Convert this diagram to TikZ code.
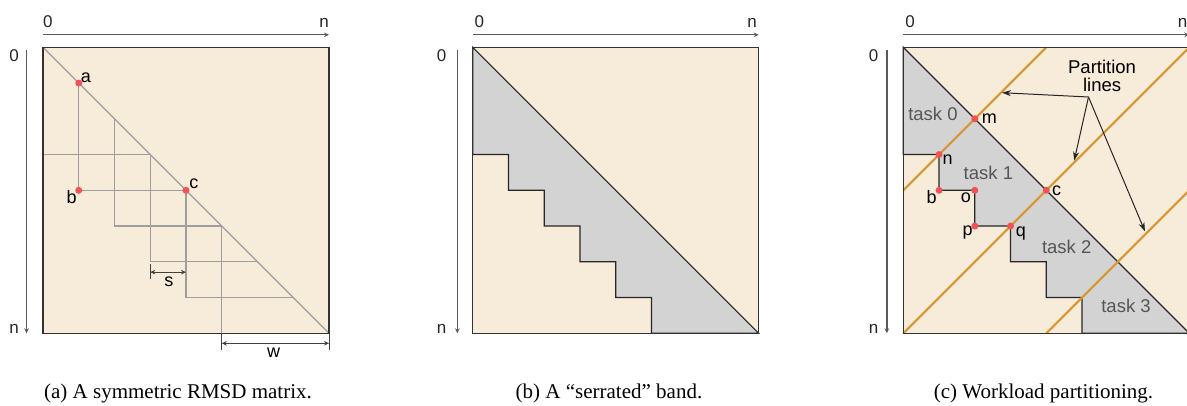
\documentclass[tikz,border=0pt]{standalone}
\usepackage{fontspec}
\setmainfont{Liberation Serif}
\setsansfont{Liberation Sans}
\usetikzlibrary{arrows.meta}
\definecolor{bg}{RGB}{247,235,218}
\definecolor{band}{RGB}{211,211,211}
\definecolor{orng}{RGB}{214,150,50}
\definecolor{dotred}{RGB}{240,82,88}
\definecolor{axisgray}{RGB}{90,90,90}
\definecolor{gridgray}{RGB}{158,158,158}
\definecolor{tasktext}{RGB}{85,85,85}
\tikzset{
  lbl/.style={font=\sffamily\fontsize{18}{20}\selectfont, inner sep=0pt, text=black},
  axlbl/.style={font=\sffamily\fontsize{17}{20}\selectfont, inner sep=0pt, text=black!85},
  tasklbl/.style={font=\sffamily\fontsize{18.5}{20}\selectfont, inner sep=0pt, text=tasktext},
  caption/.style={font=\fontsize{21}{24}\selectfont, inner sep=0pt, anchor=base},
  dotr/.style={circle, fill=dotred, inner sep=0pt, minimum size=7pt},
  axis/.style={draw=axisgray, line width=1.3pt, -{Stealth[length=5pt,width=4.5pt]}},
  frame/.style={draw=black!80, line width=1.4pt},
  gridline/.style={draw=gridgray, line width=1.3pt},
  edge/.style={draw=black!85, line width=1.2pt},
  part/.style={draw=orng, line width=2pt},
  callout/.style={draw=black!85, line width=1pt, -{Stealth[length=9pt,width=6pt]}},
  dimline/.style={draw=black!75, line width=1pt, {Stealth[length=5pt,width=4.5pt]}-{Stealth[length=5pt,width=4.5pt]}},
  tick/.style={draw=black!75, line width=1pt}
}
\begin{document}
\begin{tikzpicture}[x=1pt,y=-1pt]
\useasboundingbox (0,0) rectangle (1187,405);
\fill[white] (0,0) rectangle (1187,405);

% ---------------- Panel (a) ----------------
\begin{scope}[shift={(43pt,-47.3pt)},x=35.75pt,y=-35.75pt]
  \fill[bg] (0,0) rectangle (8,8);
  \draw[gridline] (0,0) -- (8,8);
  \draw[gridline] (0,3) -- (3,3);
  \draw[gridline] (1,1) -- (1,4) -- (4,4);
  \foreach \k in {2,3,4} {\draw[gridline] (\k,\k) -- (\k,\k+3) -- (\k+3,\k+3);}
  \draw[gridline] (5,5) -- (5,8);
  \draw[frame] (0,0) rectangle (8,8);
  % axes
  \coordinate (aT0) at (0,-0.35); \coordinate (aTn) at (8,-0.35);
  \coordinate (aL0) at (-0.46,0.08); \coordinate (aLn) at (-0.46,8);
  \draw[axis] (aT0) -- (aTn);
  \draw[axis] (aL0) -- (aLn);
  \node[axlbl, anchor=base west] (aX0) at (0,-0.56) {0};
  \node[axlbl, anchor=base east] (aXn) at (8,-0.56) {n};
  \node[axlbl, anchor=base] (aY0) at (-0.81,0.41) {0};
  \node[axlbl, anchor=base] (aYn) at (-0.81,8) {n};
  % dots
  \node[dotr] (ptA) at (1,1) {};
  \node[dotr] (ptB) at (1,4) {};
  \node[dotr] (ptC) at (4,4) {};
  \node[lbl] (la) at (1.20,0.86) {a};
  \node[lbl] (lb) at (0.80,4.18) {b};
  \node[lbl] (lc) at (4.22,3.82) {c};
  % s dimension
  \coordinate (s1) at (3,6.29); \coordinate (s2) at (4,6.29);
  \coordinate (s1t) at (3,6.07); \coordinate (s1b) at (3,6.47);
  \draw[tick] (s1t) -- (s1b);
  \draw[dimline] (s1) -- (s2);
  \node[lbl] (ls) at (3.52,6.57) {s};
  % w dimension
  \coordinate (w1) at (5,8.28); \coordinate (w2) at (8,8.28);
  \coordinate (w1t) at (5,8) ; \coordinate (w1b) at (5,8.47);
  \coordinate (w2t) at (8,8) ; \coordinate (w2b) at (8,8.47);
  \draw[tick] (w1t) -- (w1b);
  \draw[tick] (w2t) -- (w2b);
  \draw[dimline] (w1) -- (w2);
  \node[lbl] (lw) at (6.45,8.53) {w};
\end{scope}

% ---------------- Panel (b) ----------------
\begin{scope}[shift={(472.7pt,-47.3pt)},x=35.75pt,y=-35.75pt]
  \fill[bg] (0,0) rectangle (8,8);
  \filldraw[fill=band, edge] (0,0) -- (8,8) -- (5,8) -- (5,7) -- (4,7) -- (4,6) -- (3,6) -- (3,5)
     -- (2,5) -- (2,4) -- (1,4) -- (1,3) -- (0,3) -- cycle;
  \draw[frame] (0,0) rectangle (8,8);
  \coordinate (bT0) at (0,-0.35); \coordinate (bTn) at (8,-0.35);
  \coordinate (bL0) at (-0.43,0.08); \coordinate (bLn) at (-0.43,8);
  \draw[axis] (bT0) -- (bTn);
  \draw[axis] (bL0) -- (bLn);
  \node[axlbl, anchor=base west] (bX0) at (0.05,-0.56) {0};
  \node[axlbl, anchor=base east] (bXn) at (7.95,-0.56) {n};
  \node[axlbl, anchor=base] (bY0) at (-0.87,0.41) {0};
  \node[axlbl, anchor=base] (bYn) at (-0.87,8) {n};
\end{scope}

% ---------------- Panel (c) ----------------
\begin{scope}[shift={(903.3pt,-47.3pt)},x=35.75pt,y=-35.75pt]
  \fill[bg] (0,0) rectangle (8,8);
  \filldraw[fill=band, edge] (0,0) -- (8,8) -- (5,8) -- (5,7) -- (4,7) -- (4,6) -- (3,6) -- (3,5)
     -- (2,5) -- (2,4) -- (1,4) -- (1,3) -- (0,3) -- cycle;
  % partition lines
  \coordinate (p1a) at (0,4); \coordinate (p1b) at (4,0);
  \coordinate (p2a) at (0,8); \coordinate (p2b) at (8,0);
  \coordinate (p3a) at (4,8); \coordinate (p3b) at (8,4);
  \draw[part] (p1a) -- (p1b);
  \draw[part] (p2a) -- (p2b);
  \draw[part] (p3a) -- (p3b);
  \draw[frame] (0,0) rectangle (8,8);
  \coordinate (cT0) at (0,-0.35); \coordinate (cTn) at (8,-0.35);
  \coordinate (cL0) at (-0.46,0.08); \coordinate (cLn) at (-0.46,8);
  \draw[axis] (cT0) -- (cTn);
  \draw[axis] (cL0) -- (cLn);
  \node[axlbl, anchor=base west] (cX0) at (0.05,-0.56) {0};
  \node[axlbl, anchor=base east] (cXn) at (7.95,-0.56) {n};
  \node[axlbl, anchor=base] (cY0) at (-0.83,0.41) {0};
  \node[axlbl, anchor=base] (cYn) at (-0.83,8) {n};
  % tasks
  \node[tasklbl] (t0) at (0.83,1.87) {task 0};
  \node[tasklbl] (t1) at (2.38,3.52) {task 1};
  \node[tasklbl] (t2) at (4.57,5.59) {task 2};
  \node[tasklbl] (t3) at (6.23,7.23) {task 3};
  % dots
  \node[dotr] (dm) at (2,2) {};
  \node[dotr] (dn) at (1,3) {};
  \node[dotr] (db) at (1,4) {};
  \node[dotr] (do) at (2,4) {};
  \node[dotr] (dp) at (2,5) {};
  \node[dotr] (dq) at (3,5) {};
  \node[dotr] (dc) at (4,4) {};
  \node[lbl] (lm) at (2.41,1.99) {m};
  \node[lbl] (ln) at (1.24,3.13) {n};
  \node[lbl] (lb2) at (0.79,4.20) {b};
  \node[lbl] (lo) at (1.75,4.20) {o};
  \node[lbl] (lp) at (1.80,5.17) {p};
  \node[lbl] (lq) at (3.29,5.20) {q};
  \node[lbl] (lc2) at (4.29,4.01) {c};
  % partition callout
  \node[lbl, align=center, font=\sffamily\fontsize{18.5}{18.5}\selectfont] (plab) at (5.56,0.80) {Partition\\lines};
  \coordinate (apex) at (5.18,1.39);
  \coordinate (tip1) at (2.76,1.27);
  \coordinate (tip2) at (4.78,3.17);
  \coordinate (tip3) at (6.76,5.15);
  \draw[callout] (apex) -- (tip1);
  \draw[callout] (apex) -- (tip2);
  \draw[callout] (apex) -- (tip3);
\end{scope}

% ---------------- Captions ----------------
\node[caption] (capA) at (178,398) {(a) A symmetric RMSD matrix.};
\node[caption] (capB) at (609,398) {(b) A “serrated” band.};
\node[caption] (capC) at (1043.5,398) {(c) Workload partitioning.};
\end{tikzpicture}
\end{document}
